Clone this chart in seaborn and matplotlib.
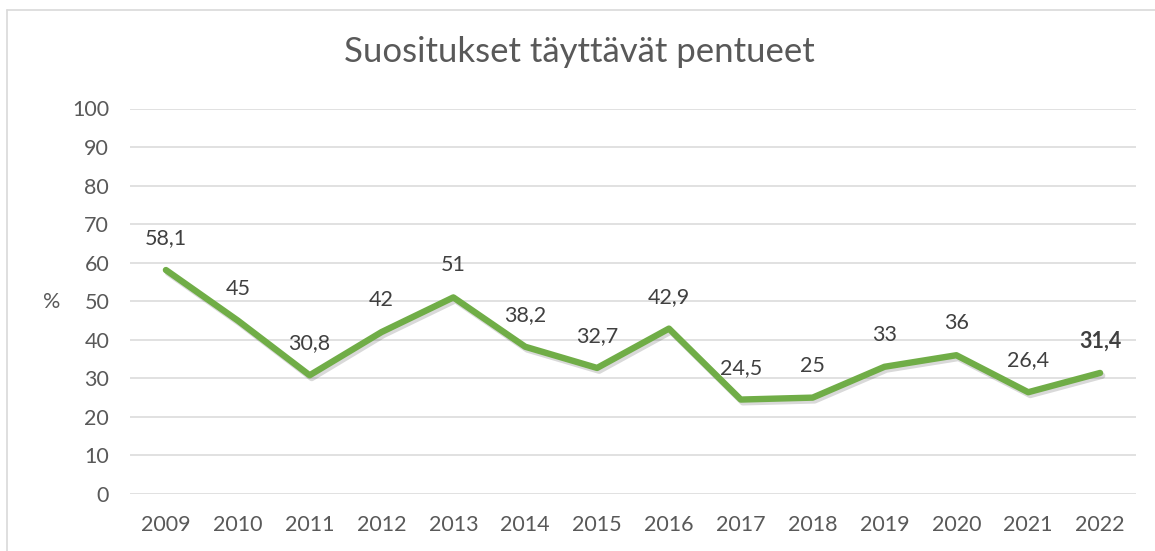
import matplotlib
matplotlib.use("Agg")
import matplotlib.pyplot as plt
import matplotlib.patheffects as pe
import seaborn as sns
import pandas as pd
import numpy as np

years = ["2009", "2010", "2011", "2012", "2013", "2014", "2015", "2016",
         "2017", "2018", "2019", "2020", "2021", "2022"]
values = [58.1, 45, 30.8, 42, 51, 38.2, 32.7, 42.9, 24.5, 25, 33, 36, 26.4, 31.4]
labels = ["58,1", "45", "30,8", "42", "51", "38,2", "32,7", "42,9",
          "24,5", "25", "33", "36", "26,4", "31,4"]
title = "Suositukset täyttävät pentueet"
ylabel = "%"

sns.set_theme(style="white")
plt.rcParams['font.family'] = ['Lato', 'DejaVu Sans']

W, H = 1155, 551
fig = plt.figure(figsize=(W / 100, H / 100), dpi=100)
ax = fig.add_axes([130 / W, (H - 494) / H, (1136 - 130) / W, (494 - 108.5) / H])

df = pd.DataFrame({"x": np.arange(len(years)), "y": values})
sns.lineplot(data=df, x="x", y="y", ax=ax, color="#70AD47", linewidth=4.6,
             solid_joinstyle="round", solid_capstyle="round",
             path_effects=[pe.SimpleLineShadow(offset=(1.5, -2), shadow_color="#000000", alpha=0.15),
                           pe.Normal()])

ax.set_xlim(-0.5, len(years) - 0.5)
ax.set_ylim(0, 100)
ax.set_yticks(range(0, 101, 10))
ax.set_xticks(range(len(years)))
ax.set_xticklabels(years)
ax.yaxis.grid(True, color="#D9D9D9", linewidth=1.1)
ax.xaxis.grid(False)
for s in ax.spines.values():
    s.set_visible(False)
ax.tick_params(axis="both", length=0, labelsize=15.5, labelcolor="#595959")
ax.tick_params(axis="x", pad=15)
ax.tick_params(axis="y", pad=15)
ax.set_xlabel("")
ax.set_ylabel("")

for i, (v, lab) in enumerate(zip(values, labels)):
    ax.annotate(lab, (i, v), xytext=(0, 23), textcoords="offset points",
                ha="center", va="center", fontsize=15.5, color="#404040",
                fontweight="bold" if i == len(values) - 1 else "normal")

fig.text(52 / W, 1 - 302 / H, ylabel, ha="center", va="center", fontsize=15.5, color="#595959")
fig.text(579 / W, 1 - 52 / H, title, ha="center", va="center",
         fontsize=25, color="#595959", fontweight="normal")

# chart border
fig.add_artist(plt.Line2D([7 / W, 7 / W], [0, 1 - 10 / H], color="#D9D9D9", linewidth=1.2))
fig.add_artist(plt.Line2D([7 / W, 1], [1 - 10 / H, 1 - 10 / H], color="#D9D9D9", linewidth=1.2))

fig.savefig("out.png", dpi=100, facecolor="white")
